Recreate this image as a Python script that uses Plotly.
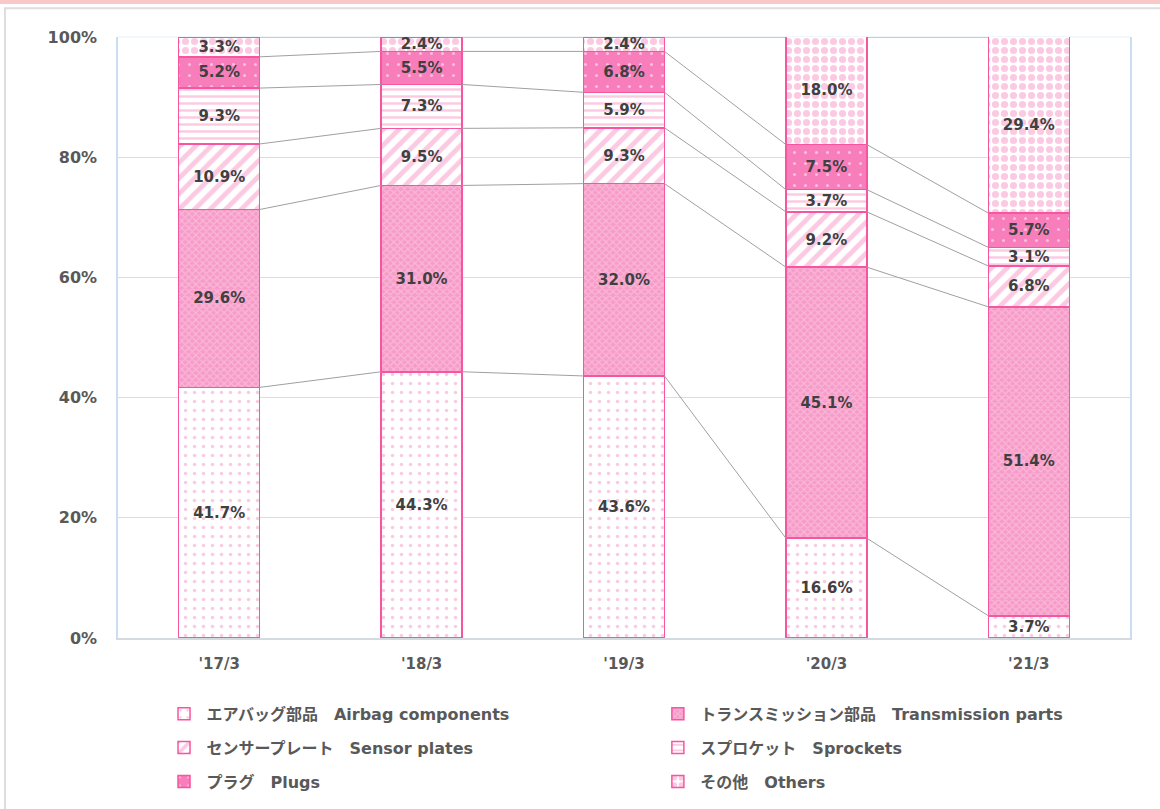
import plotly.graph_objects as go

periods = ["'17/3", "'18/3", "'19/3", "'20/3", "'21/3"]
series_names = [
    "エアバッグ部品\u3000Airbag components",
    "トランスミッション部品\u3000Transmission parts",
    "センサープレート\u3000Sensor plates",
    "スプロケット\u3000Sprockets",
    "プラグ\u3000Plugs",
    "その他\u3000Others",
]
airbag = [41.7, 44.3, 43.6, 16.6, 3.7]
transmission = [29.6, 31.0, 32.0, 45.1, 51.4]
sensor = [10.9, 9.5, 9.3, 9.2, 6.8]
sprockets = [9.3, 7.3, 5.9, 3.7, 3.1]
plugs = [5.2, 5.5, 6.8, 7.5, 5.7]
others = [3.3, 2.4, 2.4, 18.0, 29.4]
y_ticks = [0, 20, 40, 60, 80, 100]

series = [airbag, transmission, sensor, sprockets, plugs, others]
# left legend column / right legend column
legend_of = ["legend", "legend2", "legend", "legend2", "legend", "legend2"]

PINK = "#F7559F"
LIGHT = "#F895C6"
patterns = [
    dict(shape=".", fgcolor=LIGHT, bgcolor="white", size=9, solidity=0.12),
    dict(shape="x", fgcolor="#FCD3E7", bgcolor="#F79BC8", size=5, solidity=0.45),
    dict(shape="/", fgcolor=LIGHT, bgcolor="white", size=11, solidity=0.45),
    dict(shape="-", fgcolor=LIGHT, bgcolor="white", size=7, solidity=0.35),
    dict(shape=".", fgcolor="white", bgcolor="#F77EBB", size=11, solidity=0.06),
    dict(shape=".", fgcolor=LIGHT, bgcolor="white", size=9, solidity=0.5),
]

x = list(range(len(periods)))
fig = go.Figure()

# connector lines between stacked segment tops
cum = [0.0] * len(periods)
for vals in series:
    cum = [c + v for c, v in zip(cum, vals)]
    lx, ly = [], []
    for i in range(len(periods) - 1):
        lx += [i + 0.2, i + 0.8, None]
        ly += [min(cum[i], 100), min(cum[i + 1], 100), None]
    fig.add_trace(go.Scatter(x=lx, y=ly, mode="lines", line=dict(color="#A0A0A0", width=1),
                             showlegend=False, hoverinfo="skip"))

for k, (name, vals, pat) in enumerate(zip(series_names, series, patterns)):
    fig.add_trace(go.Bar(
        x=x, y=vals, name=name, width=0.4,
        legend=legend_of[k], legendgroup=f"g{k}",
        text=[f"{v:.1f}%" for v in vals],
        textposition="inside", insidetextanchor="middle",
        textfont=dict(size=15, color="#404040", family="DejaVu Sans", weight="bold"),
        marker=dict(color="white", line=dict(color=PINK, width=1.5), pattern=pat),
    ))

# page decorations: pink band, panel border, faint top frame of the plot
fig.add_shape(type="rect", xref="paper", yref="paper", x0=-0.2, x1=1.1, y0=1.055, y1=1.07,
              fillcolor="#F9C8C8", line=dict(width=0), layer="below")
fig.add_shape(type="rect", xref="paper", yref="paper", x0=-0.1117, x1=1.05, y0=-0.3, y1=1.048,
              fillcolor="rgba(0,0,0,0)", line=dict(color="#DDDDDD", width=2), layer="below")
fig.add_shape(type="line", xref="paper", yref="paper", x0=0, x1=1, y0=1, y1=1,
              line=dict(color="#EEF4FB", width=1.5), layer="below")

legend_style = dict(
    orientation="v", y=-0.098, yanchor="top", traceorder="grouped",
    font=dict(size=16, color="#595959", family="DejaVu Sans, Noto Sans CJK JP", weight="bold"),
    tracegroupgap=10, itemwidth=35, bgcolor="rgba(0,0,0,0)",
)

fig.update_layout(
    barmode="stack",
    width=1160, height=809,
    margin=dict(l=118, r=30, t=37, b=171, autoexpand=False),
    plot_bgcolor="white", paper_bgcolor="white",
    font=dict(family="DejaVu Sans, Noto Sans CJK JP", color="#595959"),
    uniformtext=dict(minsize=15, mode="show"),
    xaxis=dict(tickvals=x, ticktext=periods, range=[-0.5, 4.5],
               tickfont=dict(size=15, color="#595959", weight="bold"), showgrid=False,
               showline=True, linecolor="#D3DAE2", linewidth=2, mirror=False,
               ticks="outside", ticklen=11, tickcolor="rgba(0,0,0,0)"),
    yaxis=dict(range=[0, 100], tickvals=y_ticks, ticktext=[f"{t}%" for t in y_ticks],
               tickfont=dict(size=16, color="#595959", weight="bold"), gridcolor="#CFE0F4", gridwidth=1,
               showline=True, linecolor="#CADDF2", linewidth=1.5, mirror=True, zeroline=False,
               ticks="outside", ticklen=16, tickcolor="rgba(0,0,0,0)"),
    legend=dict(x=0.043, xanchor="left", **legend_style),
    legend2=dict(x=0.531, xanchor="left", **legend_style),
    showlegend=True,
)

fig.write_html("out.html", config={"displayModeBar": False},
               post_script="document.body.style.margin='0';")
